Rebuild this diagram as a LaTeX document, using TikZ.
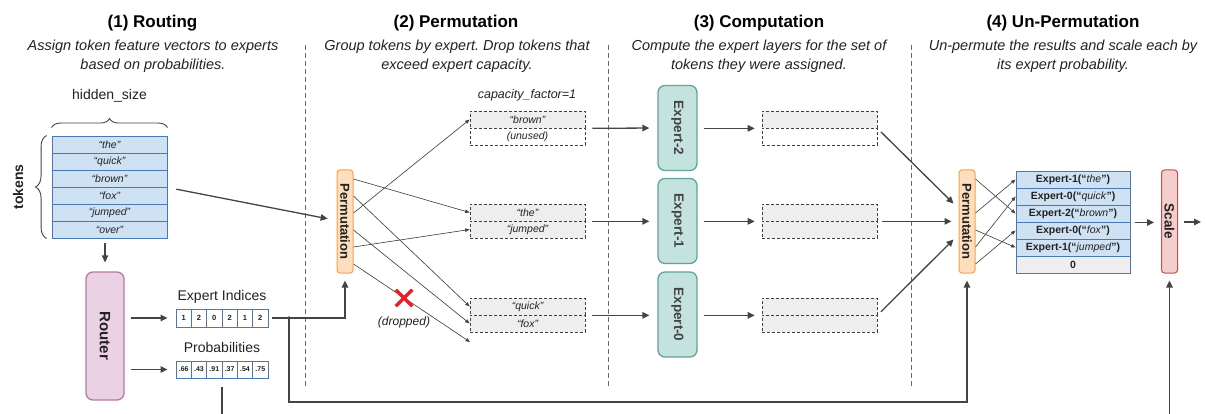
\documentclass[tikz,border=0pt]{standalone}
\usepackage{fontspec}
\setmainfont{Liberation Sans}
\usetikzlibrary{arrows.meta,decorations.pathreplacing,calc,shapes.misc}
\definecolor{ink}{HTML}{444444}
\definecolor{txt}{HTML}{222222}
\definecolor{tokF}{HTML}{CFE2F3}
\definecolor{tokB}{HTML}{4A78B0}
\definecolor{rtF}{HTML}{EAD1E3}
\definecolor{rtB}{HTML}{B47AA4}
\definecolor{prF}{HTML}{FDDFBE}
\definecolor{prB}{HTML}{F0A24E}
\definecolor{exF}{HTML}{C5E3DE}
\definecolor{exB}{HTML}{5EA597}
\definecolor{scF}{HTML}{F4CDCD}
\definecolor{scB}{HTML}{C0504D}
\definecolor{slF}{HTML}{EEEEEE}
\definecolor{xred}{HTML}{EE1C24}
\newcommand{\myfs}[1]{\fontsize{#1}{#1}\selectfont}
\frenchspacing
\begin{document}
\begin{tikzpicture}[x=1pt,y=-1pt,
 title/.style={font=\myfs{17}\bfseries, text=black, inner sep=0, anchor=base},
 sub/.style={font=\fontsize{14.5}{18.7}\selectfont\itshape, text=txt, align=center, inner sep=0, anchor=base},
 lbl/.style={font=\myfs{14}, text=txt, inner sep=0, anchor=base},
 arr/.style={draw=ink, line width=1.3pt, -{Triangle[length=7pt,width=6.5pt]}},
 thinarr/.style={draw=ink, line width=0.65pt, -{Triangle[length=4.5pt,width=3.5pt]}},
 sep/.style={draw=ink!80, line width=0.8pt, dash pattern=on 5pt off 3pt},
 tok/.style={draw=tokB, line width=0.9pt, fill=tokF, minimum width=115, minimum height=17, inner sep=0, font=\myfs{10.5}\itshape, text=txt},
 cell/.style={draw=tokB, line width=0.9pt, fill=white, minimum width=15.33, minimum height=18, inner sep=0, font=\myfs{7.5}\bfseries, text=txt},
 slot/.style={draw=black!75, line width=0.7pt, dash pattern=on 3pt off 2pt, fill=slF, minimum width=115, minimum height=17, inner sep=0, font=\myfs{10.5}\itshape, text=txt},
 otab/.style={draw=tokB, line width=0.9pt, fill=tokF, minimum width=114, minimum height=17, inner sep=0, font=\myfs{10.5}\bfseries, text=txt},
 vbox/.style={rounded corners=3pt, line width=1pt, minimum width=16, minimum height=103, inner sep=0},
 permbox/.style={vbox, draw=prB, fill=prF, font=\myfs{13}\bfseries, text=txt},
 expbox/.style={rounded corners=7pt, line width=1.3pt, draw=exB, fill=exF, minimum width=39, minimum height=85, inner sep=0, font=\myfs{13.5}\bfseries, text=txt!85},
 brc/.style={draw=ink, line width=0.9pt, decorate},
]
\useasboundingbox (0,0) rectangle (1206,414);

% titles
\node[title] (t1) at (152.5,28) {(1) Routing};
\node[sub] (s1) at (153,69.3) {Assign token feature vectors to experts\\based on probabilities.};
\node[title] (t2) at (456,28) {(2) Permutation};
\node[sub] (s2) at (457,69.3) {Group tokens by expert. Drop tokens that\\exceed expert capacity.};
\node[title] (t3) at (759,28) {(3) Computation};
\node[sub] (s3) at (759,69.3) {Compute the expert layers for the set of\\tokens they were assigned.};
\node[title] (t4) at (1063,28) {(4) Un-Permutation};
\node[sub] (s4) at (1063,69.3) {Un-permute the results and scale each by\\its expert probability.};

% separators
\draw[sep] (305,45) -- (305,387);
\draw[sep] (608,45) -- (608,387);
\draw[sep] (911,45) -- (911,387);

% token table
\foreach \w [count=\i from 0] in {the,quick,brown,fox,jumped,over}
  \node[tok] (tk\i) at (109.5,{144.5+17*\i}) {“\w”};
\node[lbl] (hs) at (109.5,100) {hidden\_size};
\draw[brc, decoration={brace, amplitude=9pt}] ($(tk0.north west)+(0,-8)$) -- ($(tk0.north east)+(0,-8)$);
\draw[brc, decoration={brace, amplitude=11pt}] ($(tk5.south west)+(-5,0)$) -- ($(tk0.north west)+(-5,0)$);
\node[font=\myfs{14}\bfseries, text=txt, rotate=90, inner sep=0] (tokl) at (18,187) {tokens};

% router
\node[rounded corners=7pt, line width=1.3pt, draw=rtB, fill=rtF, minimum width=38, minimum height=128, inner sep=0, font=\myfs{15}\bfseries, text=txt] (router) at (105,336) {\rotatebox{-90}{Router}};
\draw[arr, shorten <=5pt, shorten >=9pt] (tk5.south -| router.north) -- (router.north);

% indices and probabilities
\node[lbl] (eil) at (222,300) {Expert Indices};
\node[lbl] (pbl) at (222,352) {Probabilities};
\foreach \v [count=\i from 0] in {1,2,0,2,1,2}
  \node[cell] (ix\i) at ({183.67+15.33*\i},318) {\v};
\foreach \v [count=\i from 0] in {.66,.43,.91,.37,.54,.75}
  \node[cell, minimum height=17, font=\myfs{7}\bfseries] (pb\i) at ({183.67+15.33*\i},369.5) {\v};
\draw[arr, shorten <=6pt, shorten >=8pt] (router.east |- ix0.west) -- (ix0.west);
\draw[arr, shorten <=6pt, shorten >=8pt] (router.east |- pb0.west) -- (pb0.west);

% permutation
\node[permbox] (perm) at (345,221.5) {\rotatebox{-90}{Permutation}};
\draw[arr, shorten <=9pt, shorten >=9pt] (tk2.south east) -- ($(perm.west)+(0,-1)$);
\coordinate (dot) at (289,318);
\draw[arr, shorten <=4pt, shorten >=7pt] (ix5.east) -- (perm.south |- ix5.east) -- (perm.south);
\fill[ink] (dot) circle (1.8);

% buffers
\node[font=\myfs{12.5}\itshape, text=txt, inner sep=0, anchor=base] (cf) at (527,98.5) {capacity\_factor=1};
\node[slot] (bA1) at (527.5,119.5) {“brown”};
\node[slot, fill=white] (bA2) at (527.5,136.5) {(unused)};
\node[slot] (bB1) at (527.5,212.5) {“the”};
\node[slot] (bB2) at (527.5,229.5) {“jumped”};
\node[slot] (bC1) at (527.5,306.5) {“quick”};
\node[slot] (bC2) at (527.5,323.5) {“fox”};
\foreach \k/\tgt in {0/bB1,1/bC1,2/bA1,3/bC2,4/bB2}
  \draw[thinarr] ($(perm.east)+(0,{-42.5+17*\k})$) -- (\tgt.west);
\coordinate (drop) at (470,342);
\draw[thinarr] ($(perm.east)+(0,42.5)$) -- (drop);
\node[cross out, draw=xred, line width=3.5pt, minimum size=13pt, inner sep=0] (xx) at (404,298) {};
\node[font=\myfs{12}\itshape, text=txt, inner sep=0] (dl) at (404,322) {(dropped)};

% experts
\node[expbox] (e2) at (677.5,128) {\rotatebox{-90}{Expert-2}};
\node[expbox] (e1) at (677.5,221) {\rotatebox{-90}{Expert-1}};
\node[expbox] (e0) at (677.5,314.5) {\rotatebox{-90}{Expert-0}};
\draw[arr, shorten <=7pt, shorten >=8pt] (bA1.south east) -- (e2.west);
\draw[arr, shorten <=7pt, shorten >=8pt] (bB1.south east) -- (bB1.south east -| e1.west);
\draw[arr, shorten <=7pt, shorten >=8pt] (bC1.south east) -- (bC1.south east -| e0.west);

% output slots
\node[slot] (oA1) at (819.5,119.5) {};
\node[slot, fill=white] (oA2) at (819.5,136.5) {};
\node[slot] (oB1) at (819.5,212.5) {};
\node[slot] (oB2) at (819.5,229.5) {};
\node[slot] (oC1) at (819.5,306.5) {};
\node[slot] (oC2) at (819.5,323.5) {};
\draw[arr, shorten <=6pt, shorten >=7pt] (e2.east |- oA1.south west) -- (oA1.south west);
\draw[arr, shorten <=6pt, shorten >=7pt] (e1.east |- oB1.south west) -- (oB1.south west);
\draw[arr, shorten <=6pt, shorten >=7pt] (e0.east |- oC1.south west) -- (oC1.south west);

% un-permutation
\node[permbox] (up) at (967,221.5) {\rotatebox{-90}{Permutation}};
\draw[arr, shorten <=5pt, shorten >=7pt] (oA1.south east) -- ($(up.west)+(0,-13)$);
\draw[arr, shorten <=5pt, shorten >=7pt] (oB1.south east) -- (oB1.south east -| up.west);
\draw[arr, shorten <=5pt, shorten >=7pt] (oC1.south east) -- ($(up.west)+(0,13)$);
\coordinate (bl) at (289,402);
\draw[arr, shorten >=7pt] (dot) -- (bl) -- (bl -| up.south) -- (up.south);

% output table
\foreach \a/\b [count=\i from 0] in {1/the,0/quick,2/brown,0/fox,1/jumped}
  \node[otab] (r\i) at (1073,{179.5+17*\i}) {Expert-\a(“\textit{\mdseries\b}”)};
\node[otab, fill=slF] (r5) at (1073,264.5) {0};
\foreach \k/\tgt in {0/r2,2/r0,3/r4,4/r1,5/r3}
  \draw[thinarr] ($(up.east)+(0,{-42.5+17*\k})$) -- (\tgt.west);

% scale
\node[vbox, draw=scB, fill=scF, font=\myfs{13.5}\bfseries, text=txt] (sc) at (1169.5,221.5) {\rotatebox{-90}{Scale}};
\draw[arr, shorten <=5pt, shorten >=7pt] (r2.south east) -- (r2.south east -| sc.west);
\coordinate (outE) at (1201,222);
\draw[arr, shorten <=6pt] (sc.east |- outE) -- (outE);
\coordinate (pbs) at (222,378);
\coordinate (pbb) at (222,420);
\draw[arr, shorten <=9pt, shorten >=7pt] (pbs) -- (pbb) -- (pbb -| sc.south) -- (sc.south);
\end{tikzpicture}
\end{document}
